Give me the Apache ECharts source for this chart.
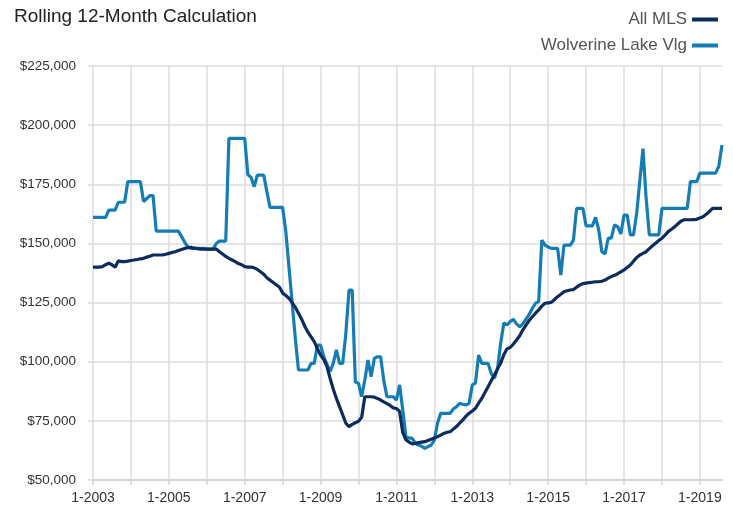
<!DOCTYPE html>
<html>
<head>
<meta charset="utf-8">
<title>Rolling 12-Month Calculation</title>
<script src="https://cdn.jsdelivr.net/npm/echarts@6/dist/echarts.min.js"></script>
<style>
  html, body { margin: 0; padding: 0; background: #fff; }
  #chart { width: 733px; height: 515px; }
</style>
</head>
<body>
<div id="chart"></div>
<script>
// values in $ thousands, monthly, Jan 2003 .. Aug 2019
const years = [2003, 2004, 2005, 2006, 2007, 2008, 2009, 2010, 2011, 2012, 2013, 2014, 2015, 2016, 2017, 2018, 2019];
const monthsInLastYear = 8;

const allMls = [
  140, 140, 140, 140.2, 141, 141.6, 141, 139.9, 142.6, 142.3, 142.3, 142.5,
  142.8, 143, 143.2, 143.5, 143.7, 144.2, 144.6, 145.1, 145.1, 145.1, 145.1, 145.4,
  145.8, 146.2, 146.5, 147, 147.4, 147.9, 148.2, 148.4, 148, 147.8, 147.6, 147.6,
  147.6, 147.6, 147.6, 147.6, 146.5, 145.5, 144.5, 143.7, 143, 142.3, 141.5, 141,
  140.2, 140, 140, 139.7, 139, 138, 137, 135.5, 134.5, 133.5, 132.5, 131.5,
  129, 128, 126.8, 125, 123, 120.5, 118, 115, 112.5, 110.5, 108.5, 105.5,
  102.8, 101, 98, 93, 88.5, 84.5, 81, 77.5, 74, 72.5, 73.5, 74.2,
  74.8, 76.5, 85.2, 85.2, 85.2, 85, 84.5, 83.8, 83, 82.3, 81.5, 80.5,
  80.2, 79, 70, 67, 66, 65.3, 65.5, 65.8, 66, 66.2, 66.7, 67.2,
  67.8, 68.3, 69, 69.7, 70.2, 70.4, 71.5, 72.6, 74, 75.4, 77, 78.2,
  79.2, 80.3, 82.5, 84.5, 87, 89.4, 92, 94.4, 97, 99.5, 103, 105.5,
  106, 107.5, 109.2, 111, 113.5, 115.5, 117.5, 119, 120.5, 121.9, 123.5, 124.7,
  124.9, 125.1, 126.3, 127.5, 128.5, 129.6, 130, 130.3, 130.5, 131.5, 132.4, 133,
  133.2, 133.4, 133.6, 133.8, 133.8, 134, 134.5, 135.3, 136, 136.5, 137.2, 138,
  138.8, 139.8, 140.9, 142.5, 144, 145.1, 145.8, 146.5, 147.8, 149, 150.1, 151.2,
  152.2, 153.5, 155, 156, 157, 158.2, 159.4, 160, 160, 160, 160.1, 160.2,
  160.8, 161.3, 162.3, 163.5, 164.8, 164.8, 164.8, 164.8
];

const wolverineLake = [
  161, 161, 161, 161, 161, 164.1, 164.1, 164.1, 167.4, 167.4, 167.4, 176.1,
  176.1, 176.1, 176.1, 176.1, 167.7, 169, 170.2, 170.2, 155.2, 155.2, 155.2, 155.2,
  155.2, 155.2, 155.2, 155.2, 153, 150.5, 148.5, 147.9, 147.9, 147.9, 147.9, 147.9,
  147.6, 147.6, 147.6, 150, 151, 151, 151, 194.4, 194.4, 194.4, 194.4, 194.4,
  194.4, 179, 178, 174, 178.9, 178.9, 178.9, 172, 165.2, 165.2, 165.2, 165.2,
  165.2, 155, 140, 125, 110, 96.5, 96.5, 96.5, 96.5, 99.3, 99.3, 107,
  107, 102.1, 99, 95.8, 99.3, 105, 99.3, 99.3, 112, 130.3, 130.3, 91.5,
  90.8, 85.2, 92.3, 100.7, 93.7, 101.4, 102.1, 102.1, 92, 85.2, 85.2, 85.2,
  83.8, 90.2, 79.6, 68.3, 67.8, 67.6, 65.5, 64.8, 64.2, 63.4, 64.1, 64.8,
  66.9, 74, 78.2, 78.2, 78.2, 78.2, 80, 81, 82.4, 82, 81.7, 82.4,
  90.2, 91, 102.8, 99.3, 99.3, 99.3, 95, 93, 97.2, 108, 116.5, 115.5,
  117, 117.9, 116, 114.8, 116, 118, 120, 122.6, 124.7, 125.4, 151.4, 149.3,
  148.5, 147.9, 147.9, 147.9, 136.6, 149.3, 149.3, 149.3, 151.4, 164.8, 164.8, 164.8,
  157.4, 157.4, 157.4, 161, 155.7, 146.5, 145.6, 152.2, 152.2, 157.8, 157.1, 154,
  162, 162, 153.6, 153.6, 162.7, 176.4, 190.1, 169, 153.6, 153.6, 153.6, 153.6,
  164.8, 164.8, 164.8, 164.8, 164.8, 164.8, 164.8, 164.8, 164.8, 176.1, 176.1, 176.1,
  179.7, 179.7, 179.7, 179.7, 179.7, 179.7, 182.7, 191.6
];

const yTicks = { min: 50, max: 225, step: 25 };

const months = [];
years.forEach((y, i) => {
  const n = i === years.length - 1 ? monthsInLastYear : 12;
  for (let m = 1; m <= n; m++) months.push(m + '-' + y);
});

const FONT = '"Liberation Sans Narrow", "Liberation Sans", Arial, sans-serif';
const chart = echarts.init(document.getElementById('chart'), null, { renderer: 'canvas' });

chart.setOption({
  animation: false,
  backgroundColor: '#fff',
  title: {
    text: 'Rolling 12-Month Calculation',
    left: 9,
    top: 2,
    textStyle: { color: '#222', fontSize: 19, fontWeight: 'normal', fontFamily: FONT }
  },
  legend: {
    orient: 'vertical',
    right: 10,
    top: 6,
    align: 'right',
    itemWidth: 26,
    itemHeight: 4,
    itemGap: 9,
    icon: 'rect',
    textStyle: { color: '#555', fontSize: 17, fontFamily: FONT },
    data: ['All MLS', 'Wolverine Lake Vlg']
  },
  grid: { left: 93, right: 11, top: 66, bottom: 35, containLabel: false },
  xAxis: {
    type: 'category',
    data: months,
    boundaryGap: false,
    axisLine: { lineStyle: { color: '#d4d4d4', width: 2 } },
    axisTick: { show: true, interval: 11, length: 5, lineStyle: { color: '#d4d4d4', width: 1.5 } },
    axisLabel: { interval: 23, color: '#333', fontSize: 14, margin: 11, fontFamily: FONT },
    splitLine: { show: true, interval: 11, lineStyle: { color: '#dcdcdc', width: 1.5 } }
  },
  yAxis: {
    type: 'value',
    min: yTicks.min,
    max: yTicks.max,
    interval: yTicks.step,
    axisLine: { show: false },
    axisTick: { show: true, length: 5, lineStyle: { color: '#dcdcdc', width: 1.5 } },
    axisLabel: {
      color: '#333',
      fontSize: 13.5,
      margin: 17,
      fontFamily: FONT,
      formatter: v => '$' + v + ',000'
    },
    splitLine: { lineStyle: { color: '#dcdcdc', width: 1.5 } }
  },
  series: [
    {
      name: 'All MLS',
      type: 'line',
      data: allMls,
      showSymbol: false,
      symbol: 'none',
      z: 3,
      itemStyle: { color: '#0c2c5c' },
      lineStyle: { width: 3.2, color: '#0c2c5c' }
    },
    {
      name: 'Wolverine Lake Vlg',
      type: 'line',
      data: wolverineLake,
      showSymbol: false,
      symbol: 'none',
      z: 2,
      itemStyle: { color: '#157db4' },
      lineStyle: { width: 3.2, color: '#157db4' }
    }
  ]
});
</script>
</body>
</html>
